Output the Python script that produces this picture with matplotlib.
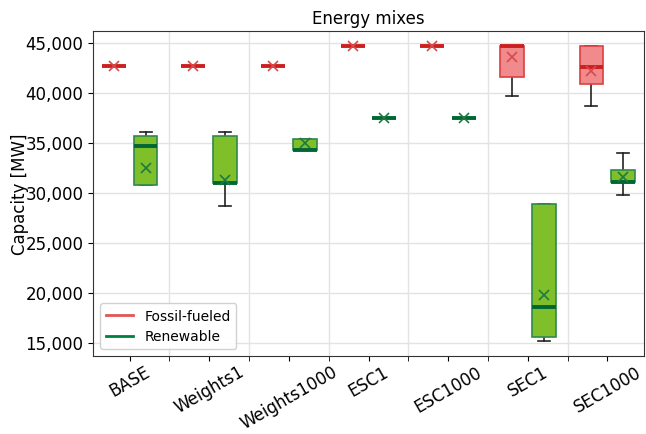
import matplotlib
matplotlib.use("Agg")
import matplotlib.pyplot as plt
from matplotlib.lines import Line2D
from matplotlib.ticker import FuncFormatter, FixedLocator
from matplotlib.transforms import ScaledTranslation

categories = ["BASE", "Weights1", "Weights1000", "ESC1", "ESC1000", "SEC1", "SEC1000"]

# Fossil-fueled stats
fos_whislo = [42620, 42620, 42620, 44620, 44620, 39620, 38620]
fos_q1     = [42620, 42620, 42620, 44620, 44620, 41520, 40850]
fos_med    = [42620, 42620, 42620, 44620, 44620, 44620, 42520]
fos_q3     = [42620, 42620, 42620, 44620, 44620, 44620, 44620]
fos_whishi = [42620, 42620, 42620, 44620, 44620, 44620, 44620]
fos_mean   = [42620, 42620, 42620, 44620, 44620, 43580, 42120]

# Renewable stats
ren_whislo = [30780, 28620, 34280, 37450, 37450, 15180, 29780]
ren_q1     = [30780, 30920, 34280, 37450, 37450, 15520, 31080]
ren_med    = [34680, 30920, 34280, 37450, 37450, 18550, 31080]
ren_q3     = [35680, 35650, 35350, 37450, 37450, 28850, 32250]
ren_whishi = [36080, 36050, 35350, 37450, 37450, 28850, 33950]
ren_mean   = [32450, 31250, 34920, 37450, 37450, 19720, 31580]

def stats(lo, q1, med, q3, hi, mean):
    return [dict(whislo=a, q1=b, med=c, q3=d, whishi=e, mean=f, fliers=[])
            for a, b, c, d, e, f in zip(lo, q1, med, q3, hi, mean)]

fig = plt.figure(figsize=(6.46, 4.35), dpi=100)
ax = fig.add_axes([93/646, 78/435, 551/646, 325/435])

pos = list(range(len(categories)))
w = 0.3

def draw(st, offset, fill, edge, medc, meanc):
    res = ax.bxp(st, positions=[p + offset for p in pos], widths=w, patch_artist=True,
                 showmeans=True, showfliers=False,
                 boxprops=dict(facecolor=fill, edgecolor=edge, linewidth=1.2),
                 medianprops=dict(color=medc, linewidth=2.8),
                 whiskerprops=dict(color="#222222", linewidth=1.2),
                 capprops=dict(color="#222222", linewidth=1.2),
                 meanprops=dict(marker="x", markeredgecolor=meanc, markersize=6.5,
                                markeredgewidth=1.2, linestyle="none"),
                 manage_ticks=False)
    for b in res["boxes"]:
        b.set_zorder(3)
    for m in res["medians"]:
        m.set_zorder(4)
    for m in res["means"]:
        m.set_zorder(5)
    for c in res["caps"] + res["whiskers"]:
        c.set_zorder(2)

draw(stats(fos_whislo, fos_q1, fos_med, fos_q3, fos_whishi, fos_mean), -0.2,
     "#f08a8c", "#dc4040", "#cc2020", "#d84a4a")
draw(stats(ren_whislo, ren_q1, ren_med, ren_q3, ren_whishi, ren_mean), 0.2,
     "#7fbf2a", "#2f8a4a", "#006633", "#1e7a45")

ax.set_xlim(-0.46, 6.46)
ax.set_ylim(13650, 46150)
ax.set_xticks(pos)
labels = ax.set_xticklabels(categories, rotation=30, ha="center", fontsize=12)
labels[-1].set_transform(labels[-1].get_transform() +
                         ScaledTranslation(-4/72, 0, fig.dpi_scale_trans))
ax.tick_params(axis="x", which="major", pad=1)
ax.xaxis.set_minor_locator(FixedLocator([p + 0.5 for p in pos[:-1]]))
ax.tick_params(axis="x", which="minor", length=3.5)
ax.set_yticks([15000, 20000, 25000, 30000, 35000, 40000, 45000])
ax.yaxis.set_major_formatter(FuncFormatter(lambda v, p: f"{int(v):,}"))
ax.tick_params(axis="y", labelsize=12)
ax.grid(True, axis="y", which="major", color="#e3e3e3", linewidth=1)
ax.grid(True, axis="x", which="minor", color="#e3e3e3", linewidth=1)
ax.set_axisbelow(True)
for s in ax.spines.values():
    s.set_color("#333333")

ax.set_ylabel("Capacity [MW]", fontsize=12, labelpad=-3)
ax.set_title("Energy mixes", fontsize=12)

handles = [Line2D([0], [0], color="#e05555", linewidth=2),
           Line2D([0], [0], color="#008040", linewidth=2)]
ax.legend(handles, ["Fossil-fueled", "Renewable"], loc="lower left", fontsize=10,
          framealpha=0.9)

fig.savefig("out.png", dpi=100)
